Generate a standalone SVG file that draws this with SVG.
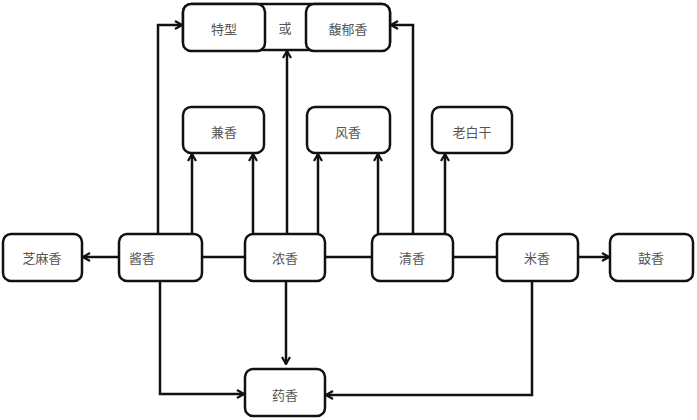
<svg xmlns="http://www.w3.org/2000/svg" width="697" height="420" viewBox="0 0 697 420">
<style>
.box{fill:#fff;stroke:#111;stroke-width:2.5}
.t{font-family:"Noto Sans CJK SC","Noto Sans",sans-serif;font-size:13px;fill:#555;text-anchor:middle;dominant-baseline:central}
.c{fill:none;stroke:#111;stroke-width:2.5}
</style>
<defs>
<marker id="a" markerWidth="10" markerHeight="10" viewBox="0 0 10 10" refX="9" refY="5" orient="auto" markerUnits="userSpaceOnUse">
<path d="M2,1 L9,5 L2,9" fill="none" stroke="#111" stroke-width="2.2"/>
</marker>
</defs>
<rect width="697" height="420" fill="#fff"/>
<g id="connectors">
<path class="c" d="M158,234 V25 H182" marker-end="url(#a)"/>
<path class="c" d="M413,234 V25 H391" marker-end="url(#a)"/>
<path class="c" d="M287,234 V51" marker-end="url(#a)"/>
<path class="c" d="M192,234 V154" marker-end="url(#a)"/>
<path class="c" d="M253,234 V154" marker-end="url(#a)"/>
<path class="c" d="M318,234 V154" marker-end="url(#a)"/>
<path class="c" d="M378,234 V154" marker-end="url(#a)"/>
<path class="c" d="M445,234 V154" marker-end="url(#a)"/>
<path class="c" d="M119,257 H83" marker-end="url(#a)"/>
<path class="c" d="M578,257 H609" marker-end="url(#a)"/>
<path class="c" d="M202,257 H245"/>
<path class="c" d="M325,257 H372"/>
<path class="c" d="M453,257 H497"/>
<path class="c" d="M286,281 V364" marker-end="url(#a)"/>
<path class="c" d="M160,281 V394 H244" marker-end="url(#a)"/>
<path class="c" d="M532,281 V395 H326" marker-end="url(#a)"/>
</g>
<g id="top">
<rect class="box" x="183" y="4" width="207" height="46" rx="8"/>
<text class="t" x="285" y="27">或</text>
</g>
<g id="n-texing"><rect class="box" x="183" y="4" width="82" height="47" rx="8"/><text class="t" x="224" y="28">特型</text></g>
<g id="n-fuyu"><rect class="box" x="306" y="4" width="84" height="47" rx="8"/><text class="t" x="348" y="28">馥郁香</text></g>
<g id="n-jianxiang"><rect class="box" x="183" y="107" width="81" height="46" rx="8"/><text class="t" x="224" y="131">兼香</text></g>
<g id="n-fengxiang"><rect class="box" x="307" y="107" width="83" height="46" rx="8"/><text class="t" x="348" y="131">风香</text></g>
<g id="n-laobaigan"><rect class="box" x="432" y="107" width="80" height="46" rx="8"/><text class="t" x="472" y="131">老白干</text></g>
<g id="n-zhimaxiang"><rect class="box" x="3" y="234" width="79" height="47" rx="8"/><text class="t" x="42" y="257">芝麻香</text></g>
<g id="n-jiangxiang"><rect class="box" x="119" y="234" width="83" height="47" rx="8"/><text class="t" x="142" y="257">酱香</text></g>
<g id="n-nongxiang"><rect class="box" x="245" y="234" width="80" height="47" rx="8"/><text class="t" x="285" y="257">浓香</text></g>
<g id="n-qingxiang"><rect class="box" x="372" y="234" width="81" height="47" rx="8"/><text class="t" x="412" y="257">清香</text></g>
<g id="n-mixiang"><rect class="box" x="497" y="234" width="81" height="47" rx="8"/><text class="t" x="537" y="257">米香</text></g>
<g id="n-guxiang"><rect class="box" x="610" y="234" width="83" height="47" rx="8"/><text class="t" x="651" y="257">鼓香</text></g>
<g id="n-yaoxiang"><rect class="box" x="245" y="369" width="80" height="47" rx="8"/><text class="t" x="285" y="394">药香</text></g>
</svg>
